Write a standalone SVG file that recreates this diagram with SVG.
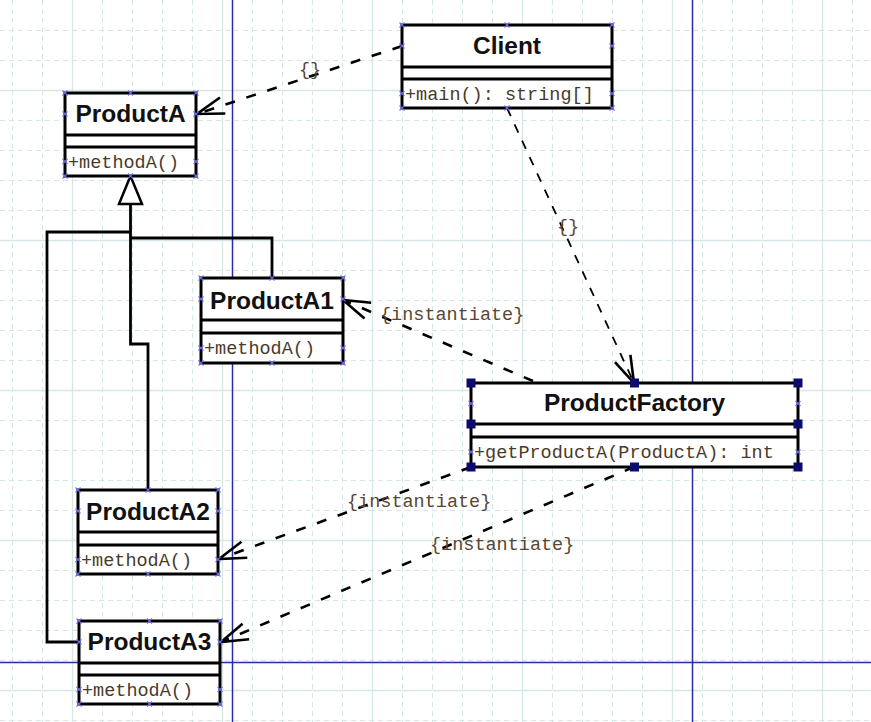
<svg xmlns="http://www.w3.org/2000/svg" xmlns:xlink="http://www.w3.org/1999/xlink" width="871" height="722" viewBox="0 0 871 722">
<style>
.gmin{stroke:#d4e6e6;stroke-width:1;stroke-dasharray:5 4;fill:none}
.gmaj{stroke:#d6e7e7;stroke-width:1.3;fill:none}
.page{stroke:#2b2ba6;stroke-width:1.5;fill:none}
.box{fill:#fff;stroke:#000;stroke-width:3}
.div{stroke:#000;stroke-width:3}
.title{font-family:"Liberation Sans",Arial,sans-serif;font-weight:bold;font-size:24.5px;fill:#111;text-anchor:middle}
.meth{font-family:"Liberation Mono","Courier New",monospace;font-size:18.5px;fill:#4a3a2a}
.lbl{font-family:"Liberation Mono","Courier New",monospace;font-size:18.5px;fill:#5a4632}
.dep{fill:none;stroke:#000;stroke-width:2.6;stroke-dasharray:10 12;marker-end:url(#open)}
.dep2{fill:none;stroke:#000;stroke-width:1.8;stroke-dasharray:9 9;marker-end:url(#open)}
.gen{fill:none;stroke:#000;stroke-width:2.8}
.port{stroke:#6a6ae6;stroke-width:1.1;fill:none}
</style>
<defs>
<marker id="open" markerUnits="userSpaceOnUse" viewBox="-30 -12 32 24" refX="0" refY="0" markerWidth="32" markerHeight="24" orient="auto" overflow="visible">
<path d="M-27,-8.5 L0,0 L-27,8.5" fill="none" stroke="#000" stroke-width="2.6"/>
</marker>
<path id="px" class="port" d="M-2.5,-2.5 L2.5,2.5 M-2.5,2.5 L2.5,-2.5"/>
<rect id="hs" x="-4.5" y="-4.5" width="9" height="9" fill="#0b0b6e"/>
</defs>
<rect x="0" y="0" width="871" height="722" fill="#fff"/>
<g id="grid">
<path class="gmin" d="M12.5,0V722M42.5,0V722M102.5,0V722M132.5,0V722M162.5,0V722M192.5,0V722M252.5,0V722M282.5,0V722M312.5,0V722M342.5,0V722M402.5,0V722M432.5,0V722M462.5,0V722M492.5,0V722M552.5,0V722M582.5,0V722M612.5,0V722M642.5,0V722M702.5,0V722M732.5,0V722M762.5,0V722M792.5,0V722M852.5,0V722"/>
<path class="gmin" d="M0,30.5H871M0,60.5H871M0,120.5H871M0,150.5H871M0,180.5H871M0,210.5H871M0,270.5H871M0,300.5H871M0,330.5H871M0,360.5H871M0,420.5H871M0,450.5H871M0,480.5H871M0,510.5H871M0,570.5H871M0,600.5H871M0,630.5H871M0,660.5H871M0,720.5H871"/>
<path class="gmaj" d="M72.5,0V722M222.5,0V722M372.5,0V722M522.5,0V722M672.5,0V722M822.5,0V722M0,90.5H871M0,240.5H871M0,390.5H871M0,540.5H871M0,690.5H871"/>
<path class="page" d="M232.5,0V722M692.5,0V722M0,662.5H871"/>
</g>
<g id="connectors">
<path class="dep" d="M402,46 L197,114"/>
<text class="lbl" x="299" y="75">{}</text>
<path class="dep2" d="M507,108 L634,383"/>
<text class="lbl" x="557" y="232">{}</text>
<path class="dep" d="M533,381 L343,300"/>
<text class="lbl" x="380" y="320">{instantiate}</text>
<path class="dep" d="M471,467 L219,559"/>
<text class="lbl" x="347" y="507">{instantiate}</text>
<path class="dep" d="M634,467 L221,642"/>
<text class="lbl" x="430" y="550">{instantiate}</text>
<path class="gen" d="M272,278 V238 H130.5"/>
<path class="gen" d="M148,490 V344 H130.5 V204"/>
<path class="gen" d="M79,642 H47 V232 H130.5"/>
<path d="M130.5,176 L119,204 L142,204 Z" fill="#fff" stroke="#000" stroke-width="2.5"/>
</g>
<g id="client">
<rect class="box" x="402" y="25" width="210" height="83"/>
<path class="div" d="M402,67H612M402,79H612"/>
<text class="title" x="507" y="54">Client</text>
<text class="meth" x="405" y="100">+main(): string[]</text>
<use href="#px" x="402" y="25"/><use href="#px" x="507" y="25"/><use href="#px" x="612" y="25"/>
<use href="#px" x="402" y="46"/><use href="#px" x="612" y="46"/>
<use href="#px" x="402" y="93.5"/><use href="#px" x="612" y="93.5"/>
<use href="#px" x="402" y="108"/><use href="#px" x="507" y="108"/><use href="#px" x="612" y="108"/>
</g>
<g id="productA">
<rect class="box" x="65" y="93" width="131" height="83"/>
<path class="div" d="M65,135H196M65,147H196"/>
<text class="title" x="130.5" y="122">ProductA</text>
<text class="meth" x="68" y="168">+methodA()</text>
<use href="#px" x="65" y="93"/><use href="#px" x="130.5" y="93"/><use href="#px" x="196" y="93"/>
<use href="#px" x="65" y="114"/><use href="#px" x="196" y="114"/>
<use href="#px" x="65" y="161.5"/><use href="#px" x="196" y="161.5"/>
<use href="#px" x="65" y="176"/><use href="#px" x="130.5" y="176"/><use href="#px" x="196" y="176"/>
</g>
<g id="productA1">
<rect class="box" x="201" y="278" width="142" height="85"/>
<path class="div" d="M201,320H343M201,333H343"/>
<text class="title" x="272" y="309">ProductA1</text>
<text class="meth" x="204" y="354">+methodA()</text>
<use href="#px" x="201" y="278"/><use href="#px" x="272" y="278"/><use href="#px" x="343" y="278"/>
<use href="#px" x="201" y="299"/><use href="#px" x="343" y="299"/>
<use href="#px" x="201" y="348"/><use href="#px" x="343" y="348"/>
<use href="#px" x="201" y="363"/><use href="#px" x="272" y="363"/><use href="#px" x="343" y="363"/>
</g>
<g id="productA2">
<rect class="box" x="78" y="490" width="140" height="84"/>
<path class="div" d="M78,532H218M78,545H218"/>
<text class="title" x="148" y="520">ProductA2</text>
<text class="meth" x="81" y="566">+methodA()</text>
<use href="#px" x="78" y="490"/><use href="#px" x="148" y="490"/><use href="#px" x="218" y="490"/>
<use href="#px" x="78" y="511"/><use href="#px" x="218" y="511"/>
<use href="#px" x="78" y="559.5"/><use href="#px" x="218" y="559.5"/>
<use href="#px" x="78" y="574"/><use href="#px" x="148" y="574"/><use href="#px" x="218" y="574"/>
</g>
<g id="productA3">
<rect class="box" x="79" y="621" width="141" height="83"/>
<path class="div" d="M79,663H220M79,675H220"/>
<text class="title" x="149.5" y="650">ProductA3</text>
<text class="meth" x="82" y="696">+methodA()</text>
<use href="#px" x="79" y="621"/><use href="#px" x="149.5" y="621"/><use href="#px" x="220" y="621"/>
<use href="#px" x="79" y="642"/><use href="#px" x="220" y="642"/>
<use href="#px" x="79" y="689.5"/><use href="#px" x="220" y="689.5"/>
<use href="#px" x="79" y="704"/><use href="#px" x="149.5" y="704"/><use href="#px" x="220" y="704"/>
</g>
<g id="productFactory">
<rect class="box" x="471" y="383" width="327" height="84"/>
<path class="div" d="M471,424H798M471,437H798"/>
<text class="title" x="634.5" y="411">ProductFactory</text>
<text class="meth" x="474" y="458">+getProductA(ProductA): int</text>
<use href="#px" x="471" y="403.5"/><use href="#px" x="798" y="403.5"/>
<use href="#px" x="471" y="452"/><use href="#px" x="798" y="452"/>
<use href="#hs" x="471" y="383"/><use href="#hs" x="634.5" y="383"/><use href="#hs" x="798" y="383"/>
<use href="#hs" x="471" y="424"/><use href="#hs" x="798" y="424"/>
<use href="#hs" x="471" y="467"/><use href="#hs" x="634.5" y="467"/><use href="#hs" x="798" y="467"/>
</g>
</svg>
